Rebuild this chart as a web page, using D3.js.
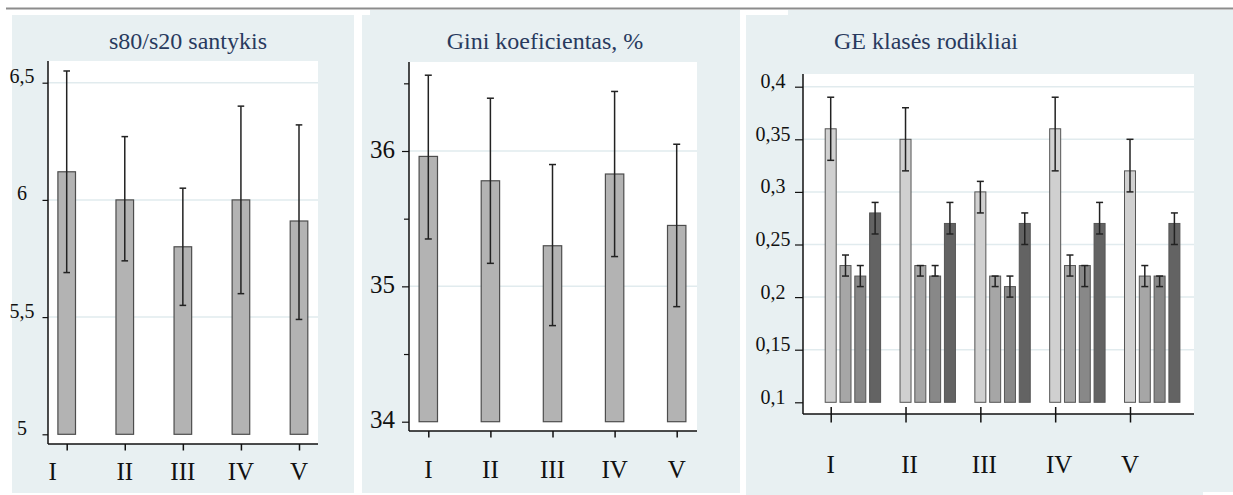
<!DOCTYPE html>
<html>
<head>
<meta charset="utf-8">
<script src="https://cdn.jsdelivr.net/npm/d3@7"></script>
<style>
  body { margin: 0; background: #fff; }
  svg { display: block; }
  svg text { font-family: "Liberation Serif", "DejaVu Serif", serif; }
</style>
</head>
<body>
<svg id="chart" width="1233" height="495"></svg>
<script>
// duomenys
const groups = ["I", "II", "III", "IV", "V"];

const s80Mean = [6.12, 6.0, 5.8, 6.0, 5.91];
const s80Low = [5.69, 5.74, 5.55, 5.60, 5.49];
const s80High = [6.55, 6.27, 6.05, 6.40, 6.32];
const s80Ticks = [5, 5.5, 6, 6.5];

const giniMean = [35.96, 35.78, 35.30, 35.83, 35.45];
const giniLow = [35.35, 35.17, 34.71, 35.22, 34.85];
const giniHigh = [36.56, 36.39, 35.90, 36.44, 36.05];
const giniTicks = [34, 35, 36];
const giniMinorTicks = [34.5, 35.5, 36.5];

const geSeries = ["GE1", "GE2", "GE3", "GE4"];
const ge1Mean = [0.36, 0.35, 0.30, 0.36, 0.32];
const ge1Low = [0.33, 0.32, 0.28, 0.32, 0.30];
const ge1High = [0.39, 0.38, 0.31, 0.39, 0.35];
const ge2Mean = [0.23, 0.23, 0.22, 0.23, 0.22];
const ge2Low = [0.22, 0.22, 0.21, 0.22, 0.21];
const ge2High = [0.24, 0.23, 0.22, 0.24, 0.23];
const ge3Mean = [0.22, 0.22, 0.21, 0.23, 0.22];
const ge3Low = [0.21, 0.22, 0.20, 0.21, 0.21];
const ge3High = [0.23, 0.23, 0.22, 0.23, 0.22];
const ge4Mean = [0.28, 0.27, 0.27, 0.27, 0.27];
const ge4Low = [0.26, 0.26, 0.25, 0.26, 0.25];
const ge4High = [0.29, 0.29, 0.28, 0.29, 0.28];
const geTicks = [0.1, 0.15, 0.2, 0.25, 0.3, 0.35, 0.4];
const geColors = ["#d0d0d0", "#a6a6a6", "#888888", "#636363"];

const svg = d3.select("#chart");
const bg = "#e8f0f2";
const gridColor = "#e1ebee";
const titleColor = "#283a5e";
const serif = '"Liberation Serif", "DejaVu Serif", serif';
const lt = d3.formatLocale({ decimal: ",", thousands: " ", grouping: [3], currency: ["", ""] });
const fmt = lt.format(".2~f");

// viršutinė linija
svg.append("line")
    .attr("x1", 6).attr("x2", 1233).attr("y1", 8.5).attr("y2", 8.5)
    .attr("stroke", "#8c8c8c").attr("stroke-width", 2);

// fonai
svg.append("rect").attr("x", 12).attr("y", 15).attr("width", 342).attr("height", 478).attr("fill", bg);
svg.append("rect").attr("x", 362).attr("y", 15).attr("width", 378).attr("height", 478).attr("fill", bg);
svg.append("rect").attr("x", 370).attr("y", 10).attr("width", 370).attr("height", 6).attr("fill", bg);
svg.append("rect").attr("x", 746).attr("y", 15).attr("width", 487).attr("height", 480).attr("fill", bg);
svg.append("rect").attr("x", 788).attr("y", 10).attr("width", 445).attr("height", 6).attr("fill", bg);
svg.append("rect").attr("x", 1203).attr("y", 492).attr("width", 30).attr("height", 3).attr("fill", "#fff");

function title(x, text) {
    svg.append("text")
        .attr("x", x).attr("y", 49)
        .attr("text-anchor", "middle")
        .attr("fill", titleColor)
        .style("font-size", "24px")
        .text(text);
}

function plotArea(x0, y0, x1, y1) {
    svg.append("rect")
        .attr("x", x0).attr("y", y0)
        .attr("width", x1 - x0).attr("height", y1 - y0)
        .attr("fill", "#fff");
}

function grid(y, values, x0, x1) {
    svg.append("g").selectAll("line")
        .data(values).enter().append("line")
        .attr("x1", x0).attr("x2", x1)
        .attr("y1", d => y(d)).attr("y2", d => y(d))
        .attr("stroke", gridColor).attr("stroke-width", 1.5);
}

function errorBars(g, data, cx, y, cap) {
    const e = g.append("g").selectAll("g").data(data).enter().append("g")
        .attr("stroke", "#222").attr("stroke-width", 1.5);
    e.append("line")
        .attr("x1", d => cx(d)).attr("x2", d => cx(d))
        .attr("y1", d => y(d.low)).attr("y2", d => y(d.high));
    e.append("line")
        .attr("x1", d => cx(d) - cap).attr("x2", d => cx(d) + cap)
        .attr("y1", d => y(d.high)).attr("y2", d => y(d.high));
    e.append("line")
        .attr("x1", d => cx(d) - cap).attr("x2", d => cx(d) + cap)
        .attr("y1", d => y(d.low)).attr("y2", d => y(d.low));
}

function xAxis(x, yPos, x0, x1, tickSize, up) {
    const g = svg.append("g").attr("transform", `translate(0,${yPos})`);
    g.append("line").attr("x1", x0).attr("x2", x1).attr("stroke", "#111").attr("stroke-width", 1.5);
    g.call(d3.axisBottom(x).tickSize(tickSize).tickFormat(""))
        .select(".domain").remove();
    g.selectAll(".tick line").attr("y1", -up).attr("stroke", "#111").attr("stroke-width", 1.5);
    return g;
}

function xLabels(x, labelY, dxFn) {
    svg.append("g").selectAll("text")
        .data(groups).enter().append("text")
        .attr("x", d => x(d))
        .attr("dx", dxFn || 0)
        .attr("y", labelY)
        .attr("text-anchor", "middle")
        .attr("fill", "#111")
        .style("font-size", "25px")
        .text(d => d);
}

function yAxis(xPos, y, y0, y1, ticks, tickSize, fontSize, labelX, anchor, dy) {
    const ax = svg.append("g").attr("transform", `translate(${xPos},0)`);
    ax.append("line").attr("y1", y0).attr("y2", y1).attr("stroke", "#111").attr("stroke-width", 1.5);
    ax.call(d3.axisLeft(y).tickValues(ticks).tickSize(tickSize).tickFormat(fmt)).select(".domain").remove();
    ax.attr("font-family", null).attr("font-size", null);
    ax.selectAll(".tick line").attr("stroke", "#111").attr("stroke-width", 1.2);
    ax.selectAll(".tick text")
        .attr("x", labelX).attr("dy", dy).attr("text-anchor", anchor)
        .attr("fill", "#111")
        .style("font-family", serif)
        .style("font-size", fontSize + "px");
    return ax;
}

// 1. s80/s20 santykis
(function () {
    const x = d3.scalePoint().domain(groups).range([66.7, 299]);
    const y = d3.scaleLinear().domain([5, 6.5]).range([434.3, 82.7]);
    const data = groups.map((g, i) => ({ g, mean: s80Mean[i], low: s80Low[i], high: s80High[i] }));
    const bw = 17.6;

    title(188, "s80/s20 santykis");
    plotArea(48, 61, 318, 444);
    grid(y, s80Ticks.filter(d => d > 5), 48, 318);

    const g = svg.append("g");
    g.selectAll("rect").data(data).enter().append("rect")
        .attr("x", d => x(d.g) - bw / 2)
        .attr("width", bw)
        .attr("y", d => y(d.mean))
        .attr("height", d => y(5) - y(d.mean))
        .attr("fill", "#b3b3b3").attr("stroke", "#4d4d4d").attr("stroke-width", 1.2);
    errorBars(g, data, d => x(d.g), y, 3.3);

    yAxis(48, y, 61, 444, s80Ticks, 5.5, 20, -26, "middle", 0);
    xAxis(x, 444, 48, 318, 6.5, 0);
    xLabels(x, 480, (d, i) => i === 0 ? -14 : 0);
})();

// 2. Gini koeficientas
(function () {
    const x = d3.scalePoint().domain(groups).range([428.3, 676.7]);
    const y = d3.scaleLinear().domain([34, 36]).range([421.7, 151]);
    const data = groups.map((g, i) => ({ g, mean: giniMean[i], low: giniLow[i], high: giniHigh[i] }));
    const bw = 18.4;

    title(545, "Gini koeficientas, %");
    plotArea(409, 62, 697, 431);
    grid(y, [35, 36], 409, 697);

    const g = svg.append("g");
    g.selectAll("rect").data(data).enter().append("rect")
        .attr("x", d => x(d.g) - bw / 2)
        .attr("width", bw)
        .attr("y", d => y(d.mean))
        .attr("height", d => y(34) - y(d.mean))
        .attr("fill", "#b3b3b3").attr("stroke", "#4d4d4d").attr("stroke-width", 1.2);
    errorBars(g, data, d => x(d.g), y, 3.5);

    yAxis(409, y, 62, 431, giniTicks, 7, 25, -14, "end", 6);
    const mn = svg.append("g").attr("transform", "translate(409,0)");
    mn.call(d3.axisLeft(y).tickValues(giniMinorTicks).tickSize(5).tickFormat("")).select(".domain").remove();
    mn.selectAll(".tick line").attr("stroke", "#111").attr("stroke-width", 1.2);

    xAxis(x, 431, 409, 697, 6.5, 0);
    xLabels(x, 478);
})();

// 3. GE klasės rodikliai
(function () {
    const x = d3.scalePoint().domain(groups).range([830.7, 1130]);
    const y = d3.scaleLinear().domain([0.1, 0.4]).range([402.3, 86.7]);
    const sub = d3.scaleBand().domain(geSeries).range([0, 55.4]).paddingInner(0.257);
    const means = [ge1Mean, ge2Mean, ge3Mean, ge4Mean];
    const lows = [ge1Low, ge2Low, ge3Low, ge4Low];
    const highs = [ge1High, ge2High, ge3High, ge4High];
    const data = [];
    groups.forEach((g, i) => geSeries.forEach((s, j) => {
        data.push({ g, s, j, mean: means[j][i], low: lows[j][i], high: highs[j][i] });
    }));
    const bx = d => x(d.g) - sub.bandwidth() / 2 + sub(d.s);

    title(926, "GE klasės rodikliai");
    plotArea(803, 74, 1194, 414);
    grid(y, geTicks.filter(d => d > 0.1), 803, 1194);

    const g = svg.append("g");
    g.selectAll("rect").data(data).enter().append("rect")
        .attr("x", bx)
        .attr("width", sub.bandwidth())
        .attr("y", d => y(d.mean))
        .attr("height", d => y(0.1) - y(d.mean))
        .attr("fill", d => geColors[d.j]).attr("stroke", "#555").attr("stroke-width", 1);
    errorBars(g, data, d => bx(d) + sub.bandwidth() / 2, y, 3.5);

    yAxis(803, y, 74, 414, geTicks, 8, 20, -30, "middle", 1);
    xAxis(x, 414, 803, 1194, 8.5, 7);
    xLabels(x, 473, (d, i) => i === 0 || i === 4 ? 0 : 4);
})();
</script>
</body>
</html>
